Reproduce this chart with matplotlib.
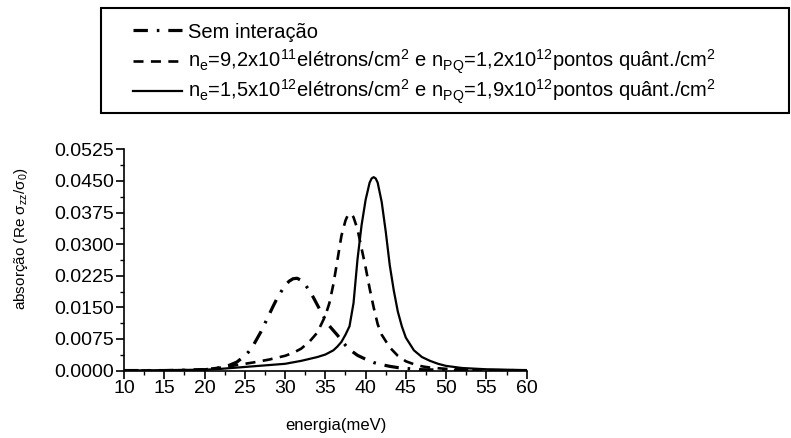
import numpy as np
import matplotlib
matplotlib.use('Agg')
import matplotlib.pyplot as plt
from matplotlib.ticker import MultipleLocator
from matplotlib.patches import Rectangle

plt.rcParams['font.family'] = ['Liberation Sans', 'DejaVu Sans']
plt.rcParams['mathtext.default'] = 'regular'

# energia (meV) and absorção
e_sem = [10, 15, 18, 20, 21, 22, 23, 24, 25, 25.5, 26, 26.5, 27, 27.5, 28, 28.5, 29, 29.5,
         30, 30.5, 31, 31.5, 32, 32.5, 33, 33.5, 34, 34.5, 35, 35.5, 36, 36.5, 37, 37.5,
         38, 39, 40, 41, 42, 43, 44, 45, 47, 50, 55, 60]
a_sem = [0.0000, 0.0000, 0.0001, 0.0002, 0.0004, 0.0007, 0.0012, 0.0020, 0.0035, 0.0045,
         0.0058, 0.0075, 0.0092, 0.0112, 0.0132, 0.0152, 0.0171, 0.0187, 0.0202, 0.0212,
         0.0218, 0.0219, 0.0214, 0.0204, 0.0190, 0.0174, 0.0156, 0.0138, 0.0121, 0.0106,
         0.0095, 0.0084, 0.0072, 0.0060, 0.0050, 0.0036, 0.0027, 0.0019, 0.0014, 0.0010,
         0.0007, 0.0005, 0.0002, 0.0001, 0.0000, 0.0000]

e_n1 = [10, 15, 18, 20, 22, 23, 24, 26, 28, 30, 31, 32, 33, 34, 35, 35.5, 36, 36.5, 37,
        37.5, 37.75, 38, 38.25, 38.5, 39, 39.5, 40, 40.5, 41, 41.5, 42, 43, 44, 45, 46,
        47, 48, 50, 55, 60]
a_n1 = [0.0000, 0.0000, 0.0001, 0.0003, 0.0007, 0.0010, 0.0013, 0.0019, 0.0026, 0.0035,
        0.0042, 0.0052, 0.0068, 0.0090, 0.0130, 0.0160, 0.0205, 0.0262, 0.0320, 0.0356,
        0.0367, 0.0372, 0.0371, 0.0364, 0.0335, 0.0290, 0.0245, 0.0195, 0.0150, 0.0110,
        0.0085, 0.0055, 0.0035, 0.0022, 0.0015, 0.0010, 0.0007, 0.0004, 0.0001, 0.0000]

e_n2 = [10, 15, 20, 22, 24, 26, 28, 30, 32, 34, 35, 36, 36.5, 37, 37.5, 38, 38.5, 39,
        39.5, 40, 40.5, 40.75, 41, 41.25, 41.5, 42, 42.5, 43, 43.5, 44, 44.5, 45, 46, 47,
        48, 49, 50, 52, 55, 60]
a_n2 = [0.0000, 0.0001, 0.0002, 0.0004, 0.0007, 0.0010, 0.0013, 0.0016, 0.0023, 0.0032,
        0.0038, 0.0048, 0.0057, 0.0068, 0.0085, 0.0105, 0.0160, 0.0265, 0.0345, 0.0405,
        0.0446, 0.0456, 0.0459, 0.0456, 0.0446, 0.0400, 0.0330, 0.0250, 0.0190, 0.0140,
        0.0105, 0.0078, 0.0048, 0.0032, 0.0023, 0.0016, 0.0011, 0.0006, 0.0003, 0.0001]

labels = ['Sem interação',
          'n$_e$=9,2x10$^{11}$elétrons/cm$^2$ e n$_{PQ}$=1,2x10$^{12}$pontos quânt./cm$^2$',
          'n$_e$=1,5x10$^{12}$elétrons/cm$^2$ e n$_{PQ}$=1,9x10$^{12}$pontos quânt./cm$^2$']

fig = plt.figure(figsize=(7.91, 4.38), dpi=100)
ax = fig.add_axes([0.1568, 0.154, 0.509, 0.505])

l1, = ax.plot(e_sem, a_sem, color='black', lw=2.3, ls=(0, (4.5, 2.8, 0.8, 2.8)))
l2, = ax.plot(e_n1, a_n1, color='black', lw=1.9, ls=(0, (3.8, 2.8)))
l3, = ax.plot(e_n2, a_n2, color='black', lw=1.6, ls='-')

ax.set_xlim(10, 60)
ax.set_ylim(0, 0.0525)
ax.xaxis.set_major_locator(MultipleLocator(5))
ax.xaxis.set_minor_locator(MultipleLocator(2.5))
ax.yaxis.set_major_locator(MultipleLocator(0.0075))
ax.yaxis.set_minor_locator(MultipleLocator(0.00375))
ax.yaxis.set_major_formatter(plt.FormatStrFormatter('%.4f'))
ax.spines['top'].set_visible(False)
ax.spines['right'].set_visible(False)
for s in ['left', 'bottom']:
    ax.spines[s].set_linewidth(1.2)
ax.tick_params(which='major', direction='out', length=6, width=1.2, labelsize=14, pad=1)
ax.tick_params(which='minor', direction='out', length=3, width=1.0)

ax.set_xlabel('energia(meV)', fontsize=12)
ax.xaxis.set_label_coords(0.527, -0.215)
ax.set_ylabel('absorção (Re σ$_{zz}$/σ$_0$)', fontsize=11)
ax.yaxis.set_label_coords(-0.234, 0.595)

# legend box at the top of the figure, one row per entry
fig.patches.append(Rectangle((101 / 791, 1 - 113 / 438), 688 / 791, 105 / 438,
                             transform=fig.transFigure, fill=False,
                             edgecolor='black', lw=1.5))
row_y = [32, 62, 92]
for h, lab, yy in zip([l1, l2, l3], labels, row_y):
    fig.legend([h], [lab], loc='center left',
               bbox_to_anchor=(133 / 791, 1 - yy / 438), frameon=False,
               fontsize=14.5, handlelength=2.45, handletextpad=0.3,
               borderpad=0, borderaxespad=0)

fig.savefig('out.png', dpi=100)
